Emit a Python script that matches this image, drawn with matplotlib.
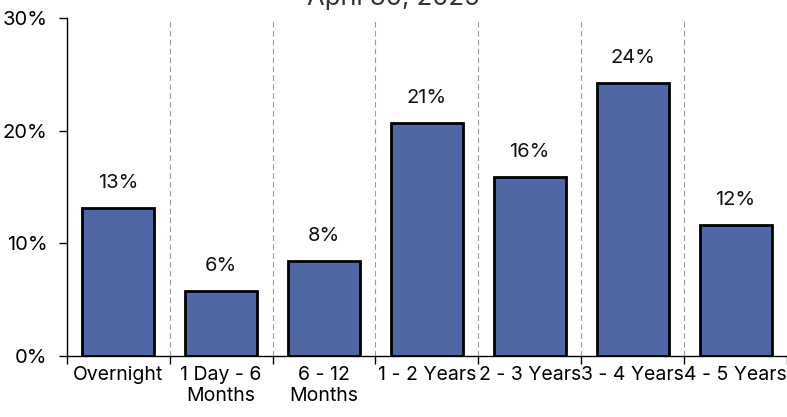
import matplotlib
matplotlib.use("Agg")
import matplotlib.pyplot as plt
from matplotlib.ticker import FixedLocator, PercentFormatter
import numpy as np

plt.rcParams['font.family'] = ['Inter', 'DejaVu Sans']

title = "April 30, 2025"
categories = ["Overnight", "1 Day - 6\nMonths", "6 - 12\nMonths", "1 - 2 Years",
              "2 - 3 Years", "3 - 4 Years", "4 - 5 Years"]
values = [13.1, 5.8, 8.4, 20.7, 15.9, 24.2, 11.6]
y_ticks = [0, 10, 20, 30]

bar_color = "#4F67A5"

fig = plt.figure(figsize=(7.87, 4.17), dpi=100)
ax = fig.add_axes([66.7 / 787, 61 / 417, 1 - 66.7 / 787, 338 / 417])

x = np.arange(len(categories))
bars = ax.bar(x, values, width=0.7, color=bar_color, edgecolor="black", linewidth=2, zorder=3)

for xi, v in zip(x, values):
    ax.annotate(f"{round(v)}%", (xi, v), xytext=(0, 18), textcoords="offset points",
                ha="center", va="center", fontsize=14.5, color="#111111")

ax.set_xlim(-0.5, len(categories) - 0.5)
ax.set_ylim(0, 30)
ax.yaxis.set_major_locator(FixedLocator(y_ticks))
ax.yaxis.set_major_formatter(PercentFormatter(decimals=0))

# category separators
for b in np.arange(0.5, len(categories) - 0.5, 1.0):
    ax.axvline(b, color="#9a9a9a", linestyle=(0, (5, 3)), linewidth=0.8, zorder=1)

ax.set_xticks(np.arange(-0.5, len(categories) + 0.5, 1.0))
ax.set_xticklabels([])
ax.set_xticks(x, minor=True)
ax.set_xticklabels(categories, minor=True, fontsize=14, linespacing=1.25)
ax.tick_params(axis="x", which="minor", length=0, pad=7)
ax.tick_params(axis="x", which="major", length=6, width=1, direction="out")
ax.tick_params(axis="y", length=6, width=1, direction="out", labelsize=14.5, pad=8)

for s in ["top", "right"]:
    ax.spines[s].set_visible(False)
for s in ["left", "bottom"]:
    ax.spines[s].set_linewidth(1)

fig.text(0.5, 1 - 5 / 417, title, ha="center", va="baseline", fontsize=18.5, color="#333333")

fig.savefig("out.png", dpi=100)
